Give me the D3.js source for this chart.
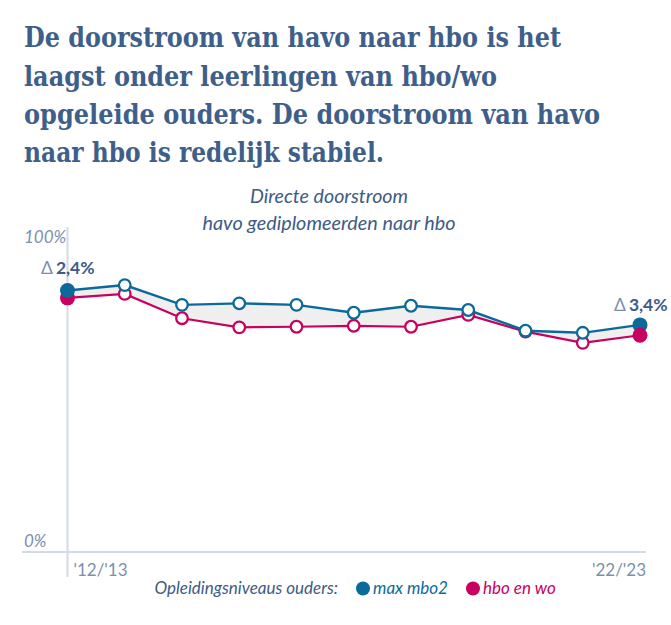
<!DOCTYPE html>
<html><head><meta charset="utf-8">
<script src="https://cdn.jsdelivr.net/npm/d3@7"></script>
<style>
html,body{margin:0;padding:0;background:#fff;}
svg{display:block;}
</style></head>
<body>
<script>
const years = ["'12/'13","'13/'14","'14/'15","'15/'16","'16/'17","'17/'18","'18/'19","'19/'20","'20/'21","'21/'22","'22/'23"];
const maxMbo2 = [86.0, 87.8, 81.3, 81.8, 81.3, 78.7, 81.0, 79.6, 72.8, 72.1, 74.7];
const hboWo   = [83.6, 84.9, 76.9, 73.9, 74.1, 74.4, 74.1, 78.0, 72.5, 68.8, 71.3];
const yTicks = [0, 100];
const xTickLabels = ["'12/'13", "'22/'23"];
const titleLines = [
  "De doorstroom van havo naar hbo is het",
  "laagst onder leerlingen van hbo/wo",
  "opgeleide ouders. De doorstroom van havo",
  "naar hbo is redelijk stabiel."
];
const subtitleLines = ["Directe doorstroom", "havo gediplomeerden naar hbo"];
const deltaLabels = ["2,4%", "3,4%"];
const legendTitle = "Opleidingsniveaus ouders:";
const seriesNames = ["max mbo2", "hbo en wo"];

const W = 671, H = 625;
const blue = "#0b6a9a", pink = "#c8005f", titleCol = "#3f5f8b", axisText = "#7b8fae", axisLine = "#d3dbe6";

const svg = d3.select("body").append("svg").attr("width", W).attr("height", H);

// Title
const titleWidths = [537, 473, 576, 360];
const titleBase = [47, 85.5, 124, 162];
titleLines.forEach((t, i) => {
  svg.append("text").attr("x", 24).attr("y", titleBase[i])
    .attr("font-family", "'DejaVu Serif', 'Liberation Serif', serif")
    .attr("font-weight", "bold").attr("font-size", 27)
    .attr("fill", titleCol)
    .attr("textLength", titleWidths[i]).attr("lengthAdjust", "spacingAndGlyphs")
    .text(t);
});

// Subtitle
const subWidths = [158, 253];
subtitleLines.forEach((t, i) => {
  svg.append("text").attr("x", 329).attr("y", [203, 230][i])
    .attr("text-anchor", "middle")
    .attr("font-family", "Lato, 'Open Sans', sans-serif")
    .attr("font-style", "italic").attr("font-size", 19)
    .attr("fill", "#3d5b86")
    .attr("textLength", subWidths[i]).attr("lengthAdjust", "spacingAndGlyphs")
    .text(t);
});

const x = d3.scalePoint().domain(years).range([67.5, 640]);
const y = d3.scaleLinear().domain([0, 100]).range([552, 248]);

// axis lines
svg.append("line").attr("x1", 22).attr("x2", 646).attr("y1", y(0)).attr("y2", y(0))
  .attr("stroke", axisLine).attr("stroke-width", 2);
svg.append("line").attr("x1", x(years[0])).attr("x2", x(years[0])).attr("y1", 227).attr("y2", 577)
  .attr("stroke", axisLine).attr("stroke-width", 2);

// y labels
svg.selectAll("text.ytick").data(yTicks).join("text").attr("class", "ytick")
  .attr("x", 24).attr("y", d => y(d) - 5.5)
  .attr("font-family", "Lato, 'Open Sans', sans-serif").attr("font-style", "italic")
  .attr("font-size", 17).attr("fill", axisText)
  .text(d => d + "%");

// x labels
svg.append("text").attr("x", x(xTickLabels[0]) + 6).attr("y", 576)
  .attr("font-family", "Lato, 'Open Sans', sans-serif").attr("font-size", 17).attr("fill", axisText)
  .text(xTickLabels[0]);
svg.append("text").attr("x", x(xTickLabels[1]) + 6).attr("y", 576).attr("text-anchor", "end")
  .attr("font-family", "Lato, 'Open Sans', sans-serif").attr("font-size", 17).attr("fill", axisText)
  .text(xTickLabels[1]);

const data = years.map((yr, i) => ({yr, b: maxMbo2[i], p: hboWo[i]}));

// area between
svg.append("path").datum(data)
  .attr("d", d3.area().x(d => x(d.yr)).y0(d => y(d.p)).y1(d => y(d.b)))
  .attr("fill", "#efefef");

// lines
svg.append("path").datum(data)
  .attr("d", d3.line().x(d => x(d.yr)).y(d => y(d.p)))
  .attr("fill", "none").attr("stroke", pink).attr("stroke-width", 2.2);
svg.append("path").datum(data)
  .attr("d", d3.line().x(d => x(d.yr)).y(d => y(d.b)))
  .attr("fill", "none").attr("stroke", blue).attr("stroke-width", 2.4);

const n = data.length;
const inner = data.slice(1, n - 1);
// pink circles
svg.selectAll("circle.p").data(inner).join("circle").attr("class", "p")
  .attr("cx", d => x(d.yr)).attr("cy", d => y(d.p)).attr("r", 5.8)
  .attr("fill", "#fff").attr("stroke", pink).attr("stroke-width", 2.3);
svg.append("circle").attr("cx", x(data[0].yr)).attr("cy", y(data[0].p)).attr("r", 7.5).attr("fill", pink);
// blue circles
svg.selectAll("circle.b").data(inner).join("circle").attr("class", "b")
  .attr("cx", d => x(d.yr)).attr("cy", d => y(d.b)).attr("r", 5.8)
  .attr("fill", "#fff").attr("stroke", blue).attr("stroke-width", 2.3);
svg.append("circle").attr("cx", x(data[0].yr)).attr("cy", y(data[0].b)).attr("r", 7.5).attr("fill", blue);
svg.append("circle").attr("cx", x(data[n-1].yr)).attr("cy", y(data[n-1].b)).attr("r", 7.5).attr("fill", blue);
svg.append("circle").attr("cx", x(data[n-1].yr)).attr("cy", y(data[n-1].p)).attr("r", 7.5).attr("fill", pink);

// delta annotations
function delta(xStart, yBase, label) {
  const t = svg.append("text").attr("x", xStart).attr("y", yBase)
    .attr("font-family", "Lato, 'Open Sans', sans-serif").attr("font-size", 17.5);
  t.append("tspan").attr("fill", axisText).text("Δ");
  t.append("tspan").attr("dx", 3).attr("fill", "#3d5b86").attr("font-weight", "bold").text(label);
}
delta(41, 274, deltaLabels[0]);
delta(614, 311, deltaLabels[1]);

// legend
const lg = svg.append("g").attr("font-family", "Lato, 'Open Sans', sans-serif").attr("font-style", "italic").attr("font-size", 17);
lg.append("text").attr("x", 338).attr("y", 594).attr("text-anchor", "end").attr("fill", "#3d5b86").text(legendTitle);
lg.append("circle").attr("cx", 363).attr("cy", 588.5).attr("r", 7).attr("fill", blue);
lg.append("text").attr("x", 373).attr("y", 594).attr("fill", blue).text(seriesNames[0]);
lg.append("circle").attr("cx", 473).attr("cy", 588.5).attr("r", 7).attr("fill", pink);
lg.append("text").attr("x", 483).attr("y", 594).attr("fill", pink).text(seriesNames[1]);
</script>
</body></html>
